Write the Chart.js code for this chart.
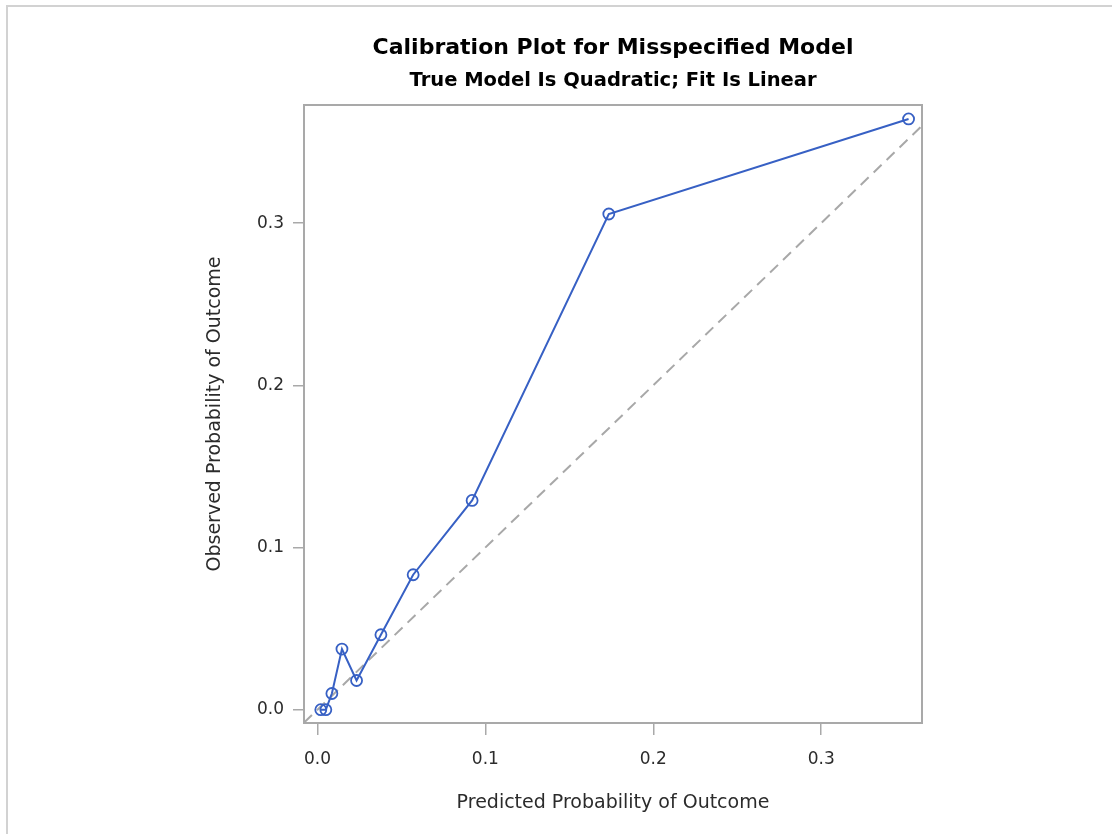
<!DOCTYPE html>
<html>
<head>
<meta charset="utf-8">
<script src="https://cdn.jsdelivr.net/npm/chart.js@4/dist/chart.umd.min.js"></script>
<style>
  html, body { margin: 0; padding: 0; background: #ffffff; }
  #wrap { position: relative; width: 1112px; height: 834px; overflow: hidden; background: #ffffff; }
  #frame { position: absolute; left: 6px; top: 5px; right: -4px; bottom: -4px;
           border-top: 2px solid #d2d2d2; border-left: 2px solid #d2d2d2; }
  canvas { position: absolute; left: 0; top: 0; }
</style>
</head>
<body>
<div id="wrap">
  <div id="frame"></div>
  <canvas id="c" width="1112" height="834"></canvas>
</div>
<script>
// Grouped calibration results: mean predicted vs. observed outcome rate
const predicted = [0.002, 0.005, 0.0086, 0.0146, 0.0233, 0.0378, 0.057, 0.0921, 0.1735, 0.352];
const observed  = [0.0,   0.0,   0.010,  0.0374, 0.018,  0.0462, 0.0832, 0.129, 0.3056, 0.3642];

// Axis ranges and tick values
const xRange = [-0.008, 0.36];
const yRange = [-0.0082, 0.3728];
const xTicks = [0.0, 0.1, 0.2, 0.3];
const yTicks = [0.0, 0.1, 0.2, 0.3];

// Line of perfect calibration (y = x) across the horizontal range
const identity = [xRange[0], xRange[1]];

const FONT = "'DejaVu Sans', sans-serif";
const AXIS_GRAY = '#a9a9a9';
const BLUE = '#3760c4';

const calibPoints = predicted.map((p, i) => ({ x: p, y: observed[i] }));
const identityPoints = identity.map(v => ({ x: v, y: v }));

// Outline the whole plot area
const plotFrame = {
  id: 'plotFrame',
  beforeDatasetsDraw(chart) {
    const { ctx, chartArea: a } = chart;
    ctx.save();
    ctx.strokeStyle = AXIS_GRAY;
    ctx.lineWidth = 2;
    ctx.strokeRect(a.left, a.top, a.right - a.left, a.bottom - a.top);
    ctx.restore();
  }
};

new Chart(document.getElementById('c'), {
  type: 'scatter',
  data: {
    datasets: [
      {
        label: 'Reference',
        data: identityPoints,
        showLine: true,
        borderColor: '#a8a8a8',
        borderWidth: 2,
        borderDash: [11, 7],
        pointRadius: 0,
        fill: false,
        order: 2
      },
      {
        label: 'Observed',
        data: calibPoints,
        showLine: true,
        borderColor: BLUE,
        borderWidth: 2,
        pointStyle: 'circle',
        pointRadius: 5.5,
        pointBorderWidth: 1.8,
        pointBorderColor: BLUE,
        pointBackgroundColor: 'rgba(0,0,0,0)',
        fill: false,
        tension: 0,
        order: 1
      }
    ]
  },
  options: {
    responsive: false,
    animation: false,
    devicePixelRatio: 1,
    layout: { padding: { left: 0, right: 190, top: 0, bottom: 0 } },
    plugins: {
      legend: { display: false },
      tooltip: { enabled: false },
      title: {
        display: true,
        fullSize: false,
        text: 'Calibration Plot for Misspecified Model',
        color: '#000000',
        font: { family: FONT, size: 22, weight: 'bold' },
        padding: { top: 34.8, bottom: 0 }
      },
      subtitle: {
        display: true,
        fullSize: false,
        text: 'True Model Is Quadratic; Fit Is Linear',
        color: '#000000',
        font: { family: FONT, size: 19.5, weight: 'bold' },
        padding: { top: 8.1, bottom: 12.3 }
      }
    },
    scales: {
      x: {
        type: 'linear',
        position: 'bottom',
        min: xRange[0],
        max: xRange[1],
        afterBuildTicks: s => { s.ticks = xTicks.map(v => ({ value: v })); },
        afterFit: s => { s.height = 111; },
        border: { display: false },
        grid: { display: true, drawOnChartArea: false, drawTicks: true, tickLength: 12, color: AXIS_GRAY, lineWidth: 1.5 },
        ticks: {
          color: '#2b2b2b',
          font: { family: FONT, size: 17 },
          padding: 14,
          maxRotation: 0,
          callback: v => Number(v).toFixed(1)
        },
        title: {
          display: true,
          text: 'Predicted Probability of Outcome',
          color: '#2b2b2b',
          font: { family: FONT, size: 19 },
          padding: { top: 0, bottom: 19.6 }
        }
      },
      y: {
        type: 'linear',
        position: 'left',
        min: yRange[0],
        max: yRange[1],
        afterBuildTicks: s => { s.ticks = yTicks.map(v => ({ value: v })); },
        afterFit: s => { s.width = 304; },
        border: { display: false },
        grid: { display: true, drawOnChartArea: false, drawTicks: true, tickLength: 11, color: AXIS_GRAY, lineWidth: 1.5 },
        ticks: {
          color: '#2b2b2b',
          font: { family: FONT, size: 17 },
          padding: 9,
          callback: v => Number(v).toFixed(1)
        },
        title: {
          display: true,
          text: 'Observed Probability of Outcome',
          color: '#2b2b2b',
          font: { family: FONT, size: 19 },
          padding: { top: 203.6, bottom: 0 }
        }
      }
    }
  },
  plugins: [plotFrame]
});
</script>
</body>
</html>
